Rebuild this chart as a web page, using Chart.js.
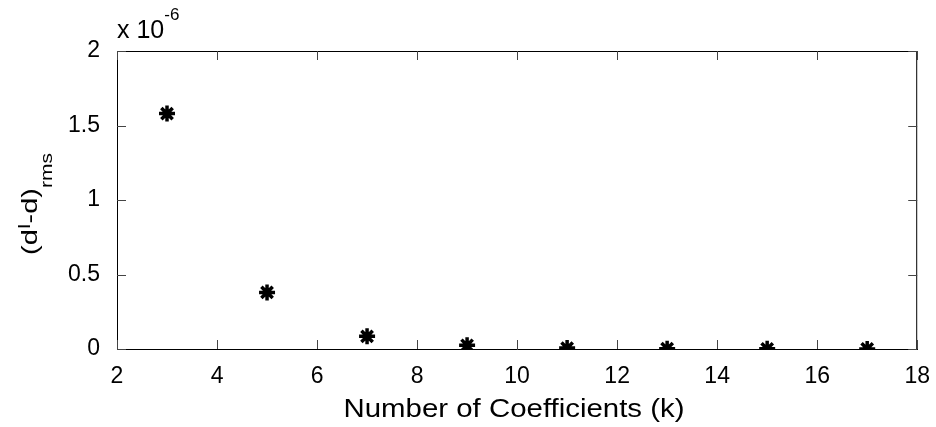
<!DOCTYPE html>
<html>
<head>
<meta charset="utf-8">
<script src="https://cdn.jsdelivr.net/npm/chart.js@4/dist/chart.umd.min.js"></script>
<style>
html,body{margin:0;padding:0;background:#fff;}
#wrap{width:936px;height:427px;}
</style>
</head>
<body>
<div id="wrap"><canvas id="c" width="936" height="427"></canvas></div>
<script>
const coefficients = [3, 5, 7, 9, 11, 13, 15, 17];
const rmsErrorScaled = [1.58, 0.38, 0.085, 0.025, 0.006, 0.002, 0.001, 0.0005]; // in units of 1e-6
const xTicks = [2, 4, 6, 8, 10, 12, 14, 16, 18];
const yTicks = [0, 0.5, 1, 1.5, 2];
const exponentLabel = ['x 10', '-6'];
const xTitle = 'Number of Coefficients (k)';
const yTitleParts = ['(d', 'I', '-d)', 'rms'];

const FONT = '"Liberation Sans", Arial, sans-serif';

const points = coefficients.map((k, i) => ({x: k, y: rmsErrorScaled[i] * 1e-6}));

const decor = {
  id: 'decor',
  afterDraw(chart) {
    const ctx = chart.ctx;
    const a = chart.chartArea;
    const xs = chart.scales.x, ys = chart.scales.y;
    ctx.save();
    // box
    ctx.strokeStyle = '#000';
    ctx.lineWidth = 1;
    ctx.beginPath();
    ctx.moveTo(a.left, a.top + 0.5); ctx.lineTo(a.right, a.top + 0.5);
    ctx.moveTo(a.right - 0.5, a.top); ctx.lineTo(a.right - 0.5, a.bottom);
    ctx.stroke();
    // inward ticks
    const L = 9;
    ctx.strokeStyle = '#444';
    ctx.beginPath();
    xTicks.forEach(v => {
      const px = Math.round(xs.getPixelForValue(v)) + 0.5;
      ctx.moveTo(px, a.bottom); ctx.lineTo(px, a.bottom - L);
      ctx.moveTo(px, a.top); ctx.lineTo(px, a.top + L);
    });
    yTicks.forEach(v => {
      const py = Math.round(ys.getPixelForValue(v * 1e-6)) + 0.5;
      ctx.moveTo(a.left, py); ctx.lineTo(a.left + L, py);
      ctx.moveTo(a.right, py); ctx.lineTo(a.right - L, py);
    });
    ctx.stroke();
    // exponent
    ctx.fillStyle = '#000';
    ctx.textBaseline = 'alphabetic';
    ctx.textAlign = 'left';
    ctx.font = '25px ' + FONT;
    ctx.fillText(exponentLabel[0], a.left, 38);
    const w0 = ctx.measureText(exponentLabel[0]).width;
    ctx.font = '17px ' + FONT;
    ctx.fillText(exponentLabel[1], a.left + w0, 20);
    // x title (slightly widened to match reference proportions)
    ctx.save();
    ctx.font = '25px ' + FONT;
    const tw = ctx.measureText(xTitle).width;
    const sx = 341 / tw;
    ctx.translate(514, 417);
    ctx.scale(sx, 1);
    ctx.textAlign = 'center';
    ctx.fillText(xTitle, 0, 0);
    ctx.restore();
    // y title (rotated)
    ctx.textAlign = 'left';
    const big = '22px ' + FONT, small = '16px ' + FONT;
    const fonts = [big, small, big, small];
    const offs = [0, -7, 0, 15];
    let widths = yTitleParts.map((t, i) => { ctx.font = fonts[i]; return ctx.measureText(t).width; });
    const total = widths.reduce((s, w) => s + w, 0);
    const k = 102 / total;
    ctx.translate(37, 204);
    ctx.rotate(-Math.PI / 2);
    ctx.scale(k, 1);
    let x = -total / 2;
    yTitleParts.forEach((t, i) => {
      ctx.font = fonts[i];
      ctx.fillText(t, x, offs[i]);
      x += widths[i];
    });
    ctx.restore();
  }
};

new Chart(document.getElementById('c'), {
  type: 'scatter',
  data: {
    datasets: [{
      data: points,
      pointStyle: 'star',
      radius: 8,
      borderWidth: 3.5,
      borderColor: '#000',
      backgroundColor: '#000',
      showLine: false
    }]
  },
  options: {
    responsive: false,
    animation: false,
    layout: {padding: {top: 51, right: 17, left: 0, bottom: 0}},
    plugins: {legend: {display: false}, tooltip: {enabled: false}},
    scales: {
      x: {
        type: 'linear', min: 2, max: 18,
        afterBuildTicks: s => { s.ticks = xTicks.map(v => ({value: v})); },
        afterFit: s => { s.height = 78; },
        grid: {display: false},
        border: {display: true, color: '#000', width: 1},
        ticks: {color: '#000', font: {family: FONT, size: 23}, padding: 6, maxRotation: 0, autoSkip: false}
      },
      y: {
        type: 'linear', min: 0, max: 2e-6,
        afterBuildTicks: s => { s.ticks = yTicks.map(v => ({value: v * 1e-6})); },
        afterFit: s => { s.width = 117; },
        grid: {display: false},
        border: {display: true, color: '#000', width: 1},
        ticks: {color: '#000', font: {family: FONT, size: 23}, padding: 9,
          callback: v => { const n = Math.round(v / 1e-7) / 10; return String(n); }}
      }
    }
  },
  plugins: [decor]
});
</script>
</body>
</html>
